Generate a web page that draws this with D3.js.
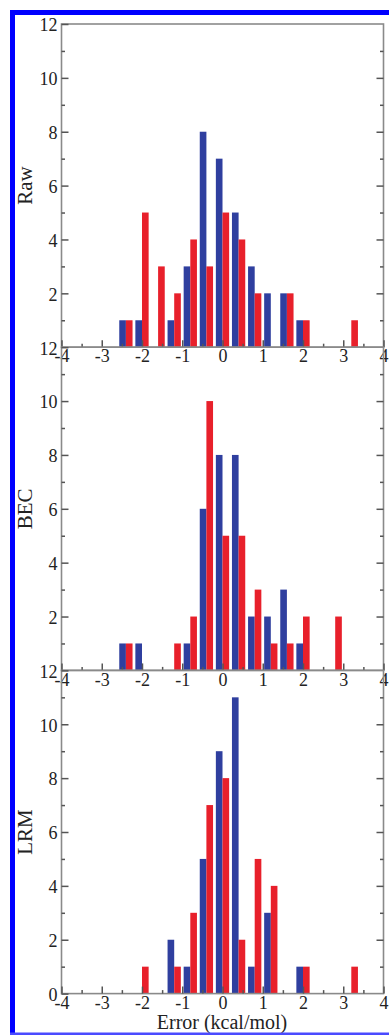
<!DOCTYPE html>
<html>
<head>
<meta charset="utf-8">
<script src="https://cdn.jsdelivr.net/npm/d3@7"></script>
<style>
  html, body { margin: 0; padding: 0; background: #fff; }
  svg { display: block; }
</style>
</head>
<body>
<div id="chart"></div>
<script>
// ---- data ----
const binCenters = [-2.4, -2.0, -1.6, -1.2, -0.8, -0.4, 0, 0.4, 0.8, 1.2, 1.6, 2.0, 2.4, 2.8, 3.2];
const panelNames = ["Raw", "BEC", "LRM"];
const rawBlue = [1, 1, 0, 1, 3, 8, 7, 5, 3, 2, 2, 1, 0, 0, 0];
const rawRed  = [1, 5, 3, 2, 4, 3, 5, 4, 2, 0, 2, 1, 0, 0, 1];
const becBlue = [1, 1, 0, 0, 1, 6, 8, 8, 2, 2, 3, 1, 0, 0, 0];
const becRed  = [1, 0, 0, 1, 2, 10, 5, 5, 3, 1, 1, 2, 0, 2, 0];
const lrmBlue = [0, 0, 0, 2, 1, 5, 9, 11, 1, 3, 0, 1, 0, 0, 0];
const lrmRed  = [0, 1, 0, 1, 3, 7, 8, 2, 5, 4, 0, 1, 0, 0, 1];
const xTickValues = [-4, -3, -2, -1, 0, 1, 2, 3, 4];
const xMinorValues = [-3.5, -2.5, -1.5, -0.5, 0.5, 1.5, 2.5, 3.5];
const yTickValues = [0, 2, 4, 6, 8, 10, 12];
const yMinorValues = [1, 3, 5, 7, 9, 11];
const xTitle = "Error (kcal/mol)";

const panels = [
  { name: panelNames[0], blue: rawBlue, red: rawRed, showZero: false },
  { name: panelNames[1], blue: becBlue, red: becRed, showZero: false },
  { name: panelNames[2], blue: lrmBlue, red: lrmRed, showZero: true }
];

// ---- layout ----
const W = 389, H = 1035;
const left = 61.5, right = 383.5;
const top0 = 24, panelH = 323.2;
const barW = 0.165;
const blueColor = "#2f3f9f", redColor = "#e8202b";
const axisColor = "#8a8a8a", tickColor = "#555", textColor = "#222";
const font = "'Liberation Serif', 'Times New Roman', serif";

const svg = d3.select("#chart").append("svg")
  .attr("width", W).attr("height", H);

svg.append("rect").attr("width", W).attr("height", H).attr("fill", "#fff");

const x = d3.scaleLinear().domain([-4, 4]).range([left, right]);

panels.forEach((p, i) => {
  const pTop = top0 + i * panelH;
  const pBot = pTop + panelH;
  const y = d3.scaleLinear().domain([0, 12]).range([pBot, pTop]);
  const g = svg.append("g");

  const rows = binCenters.map((c, k) => ({ c, b: p.blue[k], r: p.red[k] }));

  g.selectAll("rect.blue").data(rows.filter(d => d.b > 0)).join("rect")
    .attr("x", d => x(d.c - barW)).attr("width", d => x(d.c) - x(d.c - barW))
    .attr("y", d => y(d.b)).attr("height", d => y(0) - y(d.b))
    .attr("fill", blueColor);
  g.selectAll("rect.red").data(rows.filter(d => d.r > 0)).join("rect")
    .attr("x", d => x(d.c)).attr("width", d => x(d.c + barW) - x(d.c))
    .attr("y", d => y(d.r)).attr("height", d => y(0) - y(d.r))
    .attr("fill", redColor);

  // frame
  g.append("rect").attr("x", left).attr("y", pTop)
    .attr("width", right - left).attr("height", panelH)
    .attr("fill", "none").attr("stroke", axisColor).attr("stroke-width", 1.6);

  // bottom axis major
  const xa = g.append("g").attr("transform", `translate(0,${pBot})`)
    .call(d3.axisBottom(x).tickValues(xTickValues).tickSizeInner(-7).tickSizeOuter(0)
      .tickPadding(3).tickFormat(d => String(d)));
  xa.select(".domain").remove();
  xa.selectAll("line").attr("stroke", tickColor).attr("stroke-width", 1.5);
  xa.selectAll("text").attr("font-family", font).attr("font-size", 18)
    .attr("fill", textColor).attr("dy", "0.68em");
  // bottom minor
  const xm = g.append("g").attr("transform", `translate(0,${pBot})`)
    .call(d3.axisBottom(x).tickValues(xMinorValues).tickSizeInner(-3.5).tickSizeOuter(0).tickFormat(""));
  xm.select(".domain").remove();
  xm.selectAll("line").attr("stroke", tickColor).attr("stroke-width", 1.5);

  // left axis
  const yVals = p.showZero ? yTickValues : yTickValues.filter(v => v !== 0);
  const ya = g.append("g").attr("transform", `translate(${left},0)`)
    .call(d3.axisLeft(y).tickValues(yVals).tickSizeInner(-7).tickSizeOuter(0)
      .tickPadding(4).tickFormat(d => String(d)));
  ya.select(".domain").remove();
  ya.selectAll("line").attr("stroke", tickColor).attr("stroke-width", 1.5);
  ya.selectAll("text").attr("font-family", font).attr("font-size", 18)
    .attr("fill", textColor).attr("dy", "0.38em");
  const ym = g.append("g").attr("transform", `translate(${left},0)`)
    .call(d3.axisLeft(y).tickValues(yMinorValues).tickSizeInner(-3.5).tickSizeOuter(0).tickFormat(""));
  ym.select(".domain").remove();
  ym.selectAll("line").attr("stroke", tickColor).attr("stroke-width", 1.5);

  // right axis
  const yr = g.append("g").attr("transform", `translate(${right},0)`)
    .call(d3.axisRight(y).tickValues(yTickValues.filter(v => v > 0 && v < 12)).tickSizeInner(-7).tickSizeOuter(0).tickFormat(""));
  yr.select(".domain").remove();
  yr.selectAll("line").attr("stroke", tickColor).attr("stroke-width", 1.5);
  const yrm = g.append("g").attr("transform", `translate(${right},0)`)
    .call(d3.axisRight(y).tickValues(yMinorValues).tickSizeInner(-3.5).tickSizeOuter(0).tickFormat(""));
  yrm.select(".domain").remove();
  yrm.selectAll("line").attr("stroke", tickColor).attr("stroke-width", 1.5);

  // panel label
  g.append("text")
    .attr("transform", `translate(32,${(pTop + pBot) / 2}) rotate(-90)`)
    .attr("text-anchor", "middle")
    .attr("font-family", font).attr("font-size", 21).attr("fill", textColor)
    .text(p.name);
});

// x title
svg.append("text")
  .attr("x", (left + right) / 2 - 0.5).attr("y", 1029)
  .attr("text-anchor", "middle")
  .attr("font-family", font).attr("font-size", 20).attr("fill", textColor)
  .text(xTitle);

// blue frame around the figure
svg.append("rect").attr("x", 10).attr("y", 10).attr("width", 5).attr("height", H - 10).attr("fill", "#0000ff");
svg.append("rect").attr("x", 10).attr("y", 10).attr("width", W - 10).attr("height", 5).attr("fill", "#0000ff");
svg.append("rect").attr("x", 10).attr("y", H - 2.5).attr("width", W - 10).attr("height", 2.5).attr("fill", "#4a4aff");
</script>
</body>
</html>
